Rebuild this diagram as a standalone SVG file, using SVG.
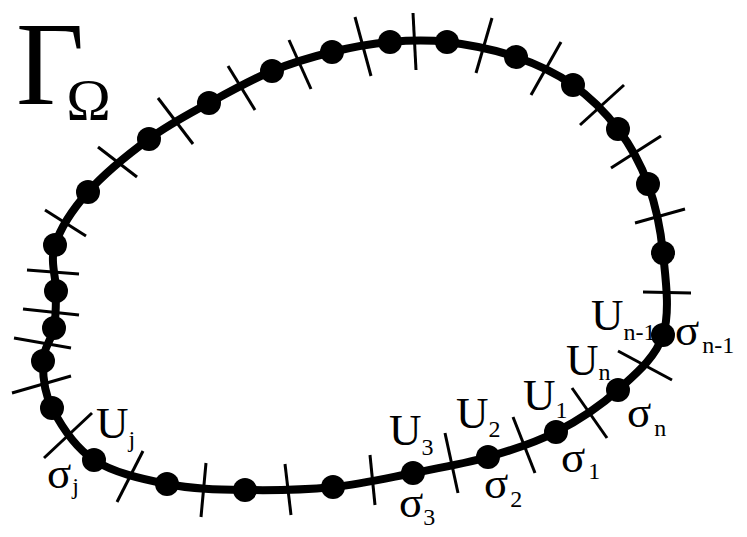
<svg xmlns="http://www.w3.org/2000/svg" width="747" height="537" viewBox="0 0 747 537">
<style>
.curve{fill:none;stroke:#000;stroke-width:8;stroke-linejoin:round}
.tick{stroke:#000;stroke-width:3;fill:none}
.dot{fill:#000}
.lbl{font-family:"Liberation Serif","Times New Roman",serif;font-size:45px;fill:#000}
.sub{font-size:24px}
</style>
<rect width="747" height="537" fill="#fff"/>
<g id="title">
<text x="16" y="104" style="font-family:'Liberation Serif','Times New Roman',serif;font-size:118px">Γ<tspan dx="-18" dy="16" style="font-size:60px">Ω</tspan></text>
</g>
<g id="connectors">
<path class="curve" d="M94,460 C74.8,447.3 60.5,424.5 52,408 C43.5,391.5 42.7,374.3 43,361 C43.3,347.7 51.8,339.7 54,328 C56.2,316.3 55.8,304.8 56,291 C56.2,277.2 49.7,261.5 55,245 C60.3,228.5 72.3,209.7 88,192 C103.7,174.3 128.8,153.8 149,139 C169.2,124.2 188.5,114.3 209,103 C229.5,91.7 251.5,79.5 272,71 C292.5,62.5 312.3,56.8 332,52 C351.7,47.2 370.8,43.7 390,42 C409.2,40.3 426,39.5 447,42 C468,44.5 495,49.8 516,57 C537,64.2 556,73 573,85 C590,97 605.5,112.5 618,129 C630.5,145.5 640.5,163.3 648,184 C655.5,204.7 660.5,227.8 663,253 C665.5,278.2 670.5,312.2 663,335 C655.5,357.8 635.8,373.8 618,390 C600.2,406.2 577.7,420.8 556,432 C534.3,443.2 511.8,450.2 488,457 C464.2,463.8 438.8,468 413,473 C387.2,478 361,484.2 333,487 C305,489.8 272.7,490.5 245,490 C217.3,489.5 192.2,489 167,484 C141.8,479 113.2,472.7 94,460 Z"/>
<line class="tick" x1="92" y1="413" x2="44" y2="458"/>
<line class="tick" x1="12" y1="393" x2="71" y2="376"/>
<line class="tick" x1="14" y1="338" x2="71" y2="348"/>
<line class="tick" x1="23" y1="309" x2="79" y2="315"/>
<line class="tick" x1="27" y1="270" x2="79" y2="274"/>
<line class="tick" x1="45" y1="210" x2="86" y2="236"/>
<line class="tick" x1="98" y1="147" x2="137" y2="177"/>
<line class="tick" x1="158" y1="98" x2="193" y2="144"/>
<line class="tick" x1="228" y1="66" x2="255" y2="110"/>
<line class="tick" x1="289" y1="40" x2="311" y2="89"/>
<line class="tick" x1="355" y1="17" x2="371" y2="76"/>
<line class="tick" x1="413" y1="13" x2="416" y2="70"/>
<line class="tick" x1="492" y1="18" x2="476" y2="73"/>
<line class="tick" x1="561" y1="42" x2="531" y2="95"/>
<line class="tick" x1="624" y1="85" x2="580" y2="125"/>
<line class="tick" x1="661" y1="136" x2="611" y2="168"/>
<line class="tick" x1="635" y1="223" x2="685" y2="209"/>
<line class="tick" x1="643" y1="292" x2="691" y2="293"/>
<line class="tick" x1="618" y1="351" x2="672" y2="380"/>
<line class="tick" x1="572" y1="388" x2="607" y2="438"/>
<line class="tick" x1="513" y1="417" x2="535" y2="473"/>
<line class="tick" x1="445" y1="433" x2="458" y2="493"/>
<line class="tick" x1="370" y1="455" x2="375" y2="505"/>
<line class="tick" x1="285" y1="464" x2="291" y2="515"/>
<line class="tick" x1="206" y1="463" x2="201" y2="517"/>
<line class="tick" x1="143" y1="451" x2="117" y2="502"/>
</g>
<g id="node-j">
<circle class="dot" cx="94" cy="460" r="12"/>
<text class="lbl" x="96" y="438">U<tspan class="sub" dx="0" dy="9">j</tspan></text>
<text class="lbl" x="47" y="488">σ<tspan class="sub" dx="1" dy="6">j</tspan></text>
</g>
<g id="node-2"><circle class="dot" cx="52" cy="408" r="12"/></g>
<g id="node-3"><circle class="dot" cx="43" cy="361" r="12"/></g>
<g id="node-4"><circle class="dot" cx="54" cy="328" r="12"/></g>
<g id="node-5"><circle class="dot" cx="56" cy="291" r="12"/></g>
<g id="node-6"><circle class="dot" cx="55" cy="245" r="12"/></g>
<g id="node-7"><circle class="dot" cx="88" cy="192" r="12"/></g>
<g id="node-8"><circle class="dot" cx="149" cy="139" r="12"/></g>
<g id="node-9"><circle class="dot" cx="209" cy="103" r="12"/></g>
<g id="node-10"><circle class="dot" cx="272" cy="71" r="12"/></g>
<g id="node-11"><circle class="dot" cx="332" cy="52" r="12"/></g>
<g id="node-12"><circle class="dot" cx="390" cy="42" r="12"/></g>
<g id="node-13"><circle class="dot" cx="447" cy="42" r="12"/></g>
<g id="node-14"><circle class="dot" cx="516" cy="57" r="12"/></g>
<g id="node-15"><circle class="dot" cx="573" cy="85" r="12"/></g>
<g id="node-16"><circle class="dot" cx="618" cy="129" r="12"/></g>
<g id="node-17"><circle class="dot" cx="648" cy="184" r="12"/></g>
<g id="node-18"><circle class="dot" cx="663" cy="253" r="12"/></g>
<g id="node-n-1">
<circle class="dot" cx="663" cy="335" r="12"/>
<text class="lbl" x="591" y="330">U<tspan class="sub" dx="0" dy="10">n-1</tspan></text>
<text class="lbl" x="675" y="345">σ<tspan class="sub" dx="3" dy="8">n-1</tspan></text>
</g>
<g id="node-n">
<circle class="dot" cx="618" cy="390" r="12"/>
<text class="lbl" x="566" y="375">U<tspan class="sub" dx="0" dy="5">n</tspan></text>
<text class="lbl" x="627" y="427">σ<tspan class="sub" dx="3" dy="9">n</tspan></text>
</g>
<g id="node-1">
<circle class="dot" cx="556" cy="432" r="12"/>
<text class="lbl" x="523" y="410">U<tspan class="sub" dx="0" dy="8">1</tspan></text>
<text class="lbl" x="561" y="472">σ<tspan class="sub" dx="3" dy="7">1</tspan></text>
</g>
<g id="node-2b">
<circle class="dot" cx="488" cy="457" r="12"/>
<text class="lbl" x="456" y="428">U<tspan class="sub" dx="0" dy="9">2</tspan></text>
<text class="lbl" x="484" y="498">σ<tspan class="sub" dx="2" dy="9">2</tspan></text>
</g>
<g id="node-3b">
<circle class="dot" cx="413" cy="473" r="12"/>
<text class="lbl" x="389" y="445">U<tspan class="sub" dx="0" dy="10">3</tspan></text>
<text class="lbl" x="399" y="517">σ<tspan class="sub" dx="0" dy="8">3</tspan></text>
</g>
<g id="node-24"><circle class="dot" cx="333" cy="487" r="12"/></g>
<g id="node-25"><circle class="dot" cx="245" cy="490" r="12"/></g>
<g id="node-26"><circle class="dot" cx="167" cy="484" r="12"/></g>
</svg>
